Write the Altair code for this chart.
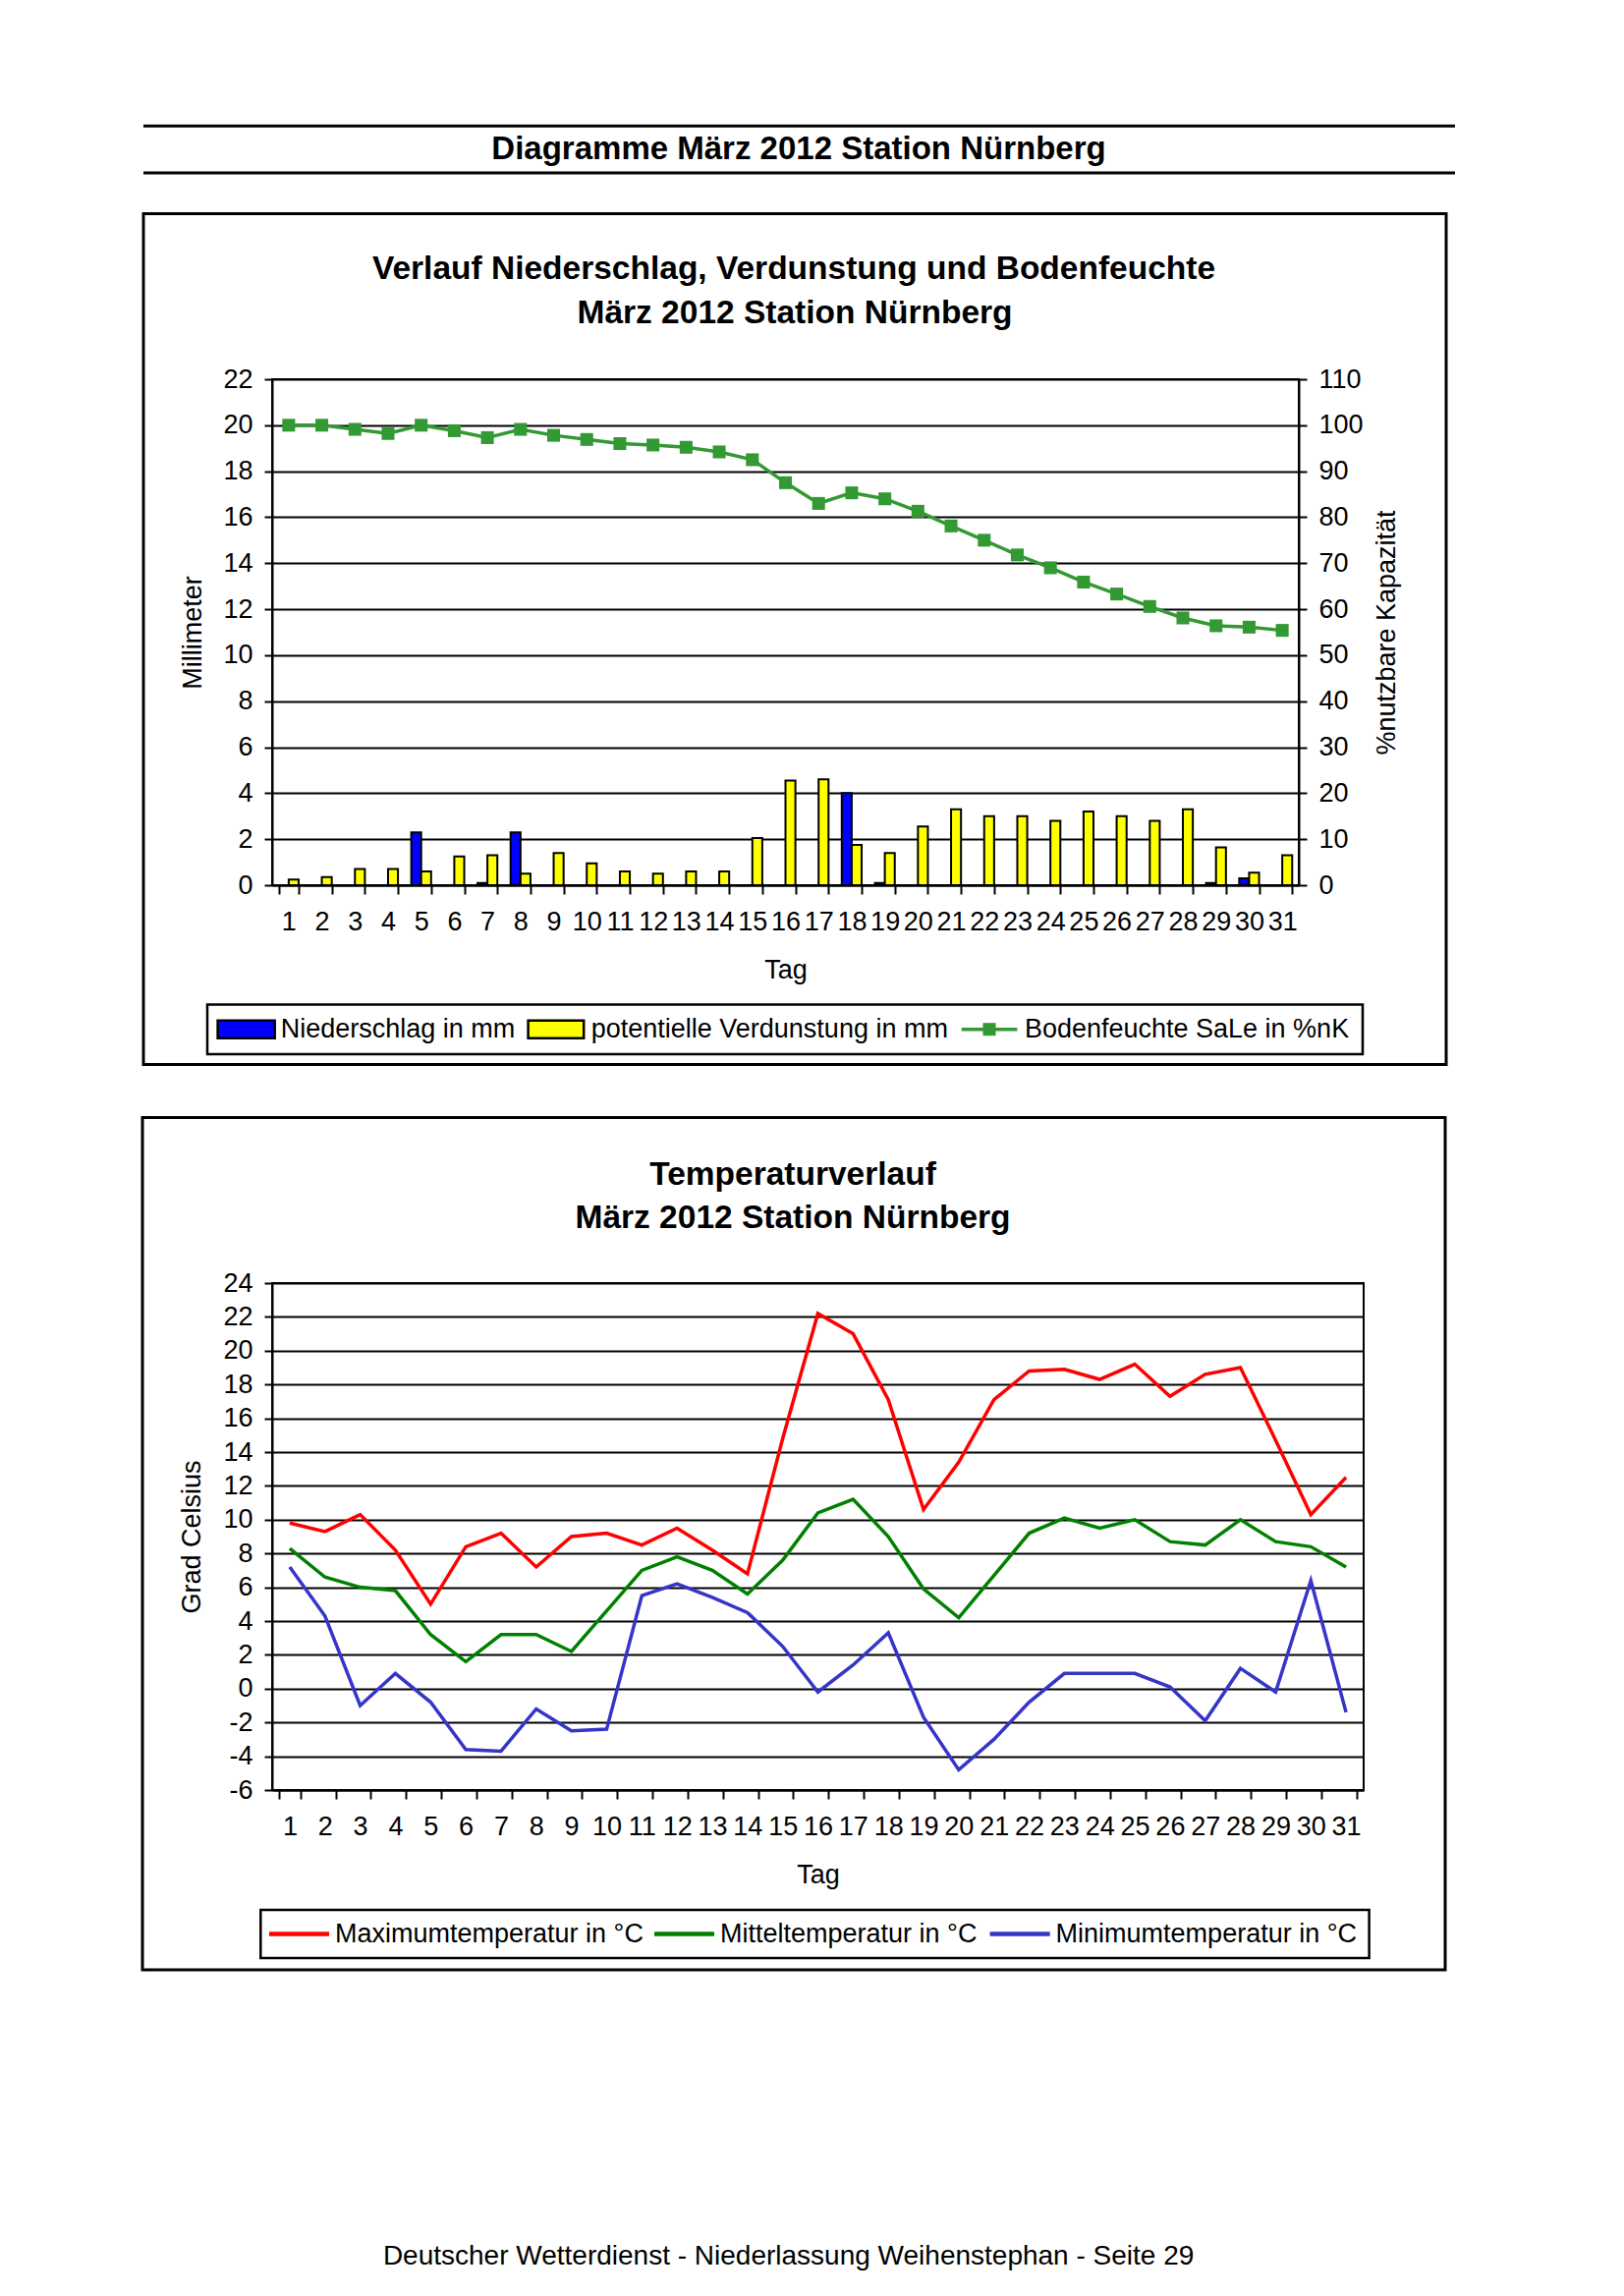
import altair as alt
import pandas as pd

FONT = "Liberation Sans"

days = list(range(1, 32))

niederschlag = [0, 0, 0, 0, 2.3, 0, 0.1, 2.3, 0, 0, 0, 0, 0, 0, 0, 0,
                0, 4.0, 0.1, 0, 0, 0, 0, 0, 0, 0, 0, 0, 0.1, 0.3, 0]
verdunstung = [0.25, 0.35, 0.7, 0.7, 0.6, 1.25, 1.3, 0.5, 1.4, 0.95, 0.6, 0.5,
               0.6, 0.6, 2.05, 4.55, 4.6, 1.75, 1.4, 2.55, 3.3, 3.0, 3.0, 2.8,
               3.2, 3.0, 2.8, 3.3, 1.65, 0.55, 1.3]
bodenfeuchte = [100, 100, 99.1, 98.2, 100, 98.8, 97.3, 99.1, 97.8, 96.9, 96.0,
                95.7, 95.2, 94.2, 92.5, 87.5, 83.0, 85.3, 84.0, 81.3, 78.1,
                75.0, 71.8, 69.0, 65.9, 63.3, 60.6, 58.1, 56.4, 56.1, 55.4]

tmax = [9.8, 9.3, 10.3, 8.2, 5.0, 8.4, 9.2, 7.2, 9.0, 9.2, 8.5, 9.5, 8.2, 6.8,
        14.8, 22.2, 21.0, 17.1, 10.6, 13.4, 17.1, 18.8, 18.9, 18.3, 19.2, 17.3,
        18.6, 19.0, 14.7, 10.3, 12.5]
tmean = [8.3, 6.6, 6.0, 5.8, 3.2, 1.6, 3.2, 3.2, 2.2, 4.6, 7.0, 7.8, 7.0, 5.6,
         7.6, 10.4, 11.2, 9.0, 5.9, 4.2, 6.7, 9.2, 10.1, 9.5, 10.0, 8.7, 8.5,
         10.0, 8.7, 8.4, 7.2]
tmin = [7.2, 4.3, -1.0, 0.9, -0.8, -3.6, -3.7, -1.2, -2.5, -2.4, 5.5, 6.2, 5.4,
        4.5, 2.5, -0.2, 1.4, 3.3, -1.7, -4.8, -3.0, -0.8, 0.9, 0.9, 0.9, 0.1,
        -1.9, 1.2, -0.2, 6.4, -1.4]

SER_N = "Niederschlag in mm"
SER_V = "potentielle Verdunstung in mm"
SER_B = "Bodenfeuchte SaLe in %nK"
SER_MAX = "Maximumtemperatur in °C"
SER_MEAN = "Mitteltemperatur in °C"
SER_MIN = "Minimumtemperatur in °C"

BLUE = "#0000FF"
YELLOW = "#FFFF00"
SOILGREEN = "#339933"
RED = "#FF0000"
DKGREEN = "#008000"
MINBLUE = "#3535C8"

W1, H1 = 1045, 515
W2, H2 = 1111, 516

one = pd.DataFrame({"k": [0]})


def x_axis(W):
    return alt.Axis(title="Tag", labelAngle=0, labelFontSize=27, labelColor="black",
                    labelBaseline="middle", labelPadding=28, labelOverlap=False,
                    tickSize=9, tickWidth=2, tickColor="black", tickBand="extent",
                    domainColor="black", domainWidth=2, grid=False,
                    titleFontSize=27, titleFontWeight="normal", titleColor="black",
                    titleX=W / 2, titleY=86, titleBaseline="middle", titleAlign="center")


def text_layer(txt, x, y, size, bold=False, align="center"):
    return alt.Chart(one).mark_text(text=txt, fontSize=size, font=FONT,
                                    fontWeight="bold" if bold else "normal",
                                    align=align, baseline="middle", color="black"
                                    ).encode(x=alt.value(x), y=alt.value(y))


def frame_layer(x0, x1, y0, y1, sw=3):
    return alt.Chart(one).mark_rect(filled=False, stroke="black", strokeWidth=sw
                                    ).encode(x=alt.value(x0), x2=alt.value(x1),
                                             y=alt.value(y0), y2=alt.value(y1))


def swatch_layer(x0, x1, y0, y1, fill):
    return alt.Chart(one).mark_rect(fill=fill, stroke="black", strokeWidth=2.5
                                    ).encode(x=alt.value(x0), x2=alt.value(x1),
                                             y=alt.value(y0), y2=alt.value(y1))


def rule_layer(x0, x1, y, color="black", sw=3):
    return alt.Chart(one).mark_rule(color=color, strokeWidth=sw
                                    ).encode(x=alt.value(x0), x2=alt.value(x1), y=alt.value(y))


def square_layer(x, y, color, size):
    return alt.Chart(one).mark_point(shape="square", filled=True, color=color, size=size,
                                     opacity=1).encode(x=alt.value(x), y=alt.value(y))


# ---------------- Chart 1 ----------------
df_bars = pd.DataFrame({
    "day": days * 2,
    "series": [SER_N] * 31 + [SER_V] * 31,
    "value": niederschlag + verdunstung,
})
df_soil = pd.DataFrame({"day": days, "series": [SER_B] * 31, "value": bodenfeuchte})

color1 = alt.Color("series:N",
                   scale=alt.Scale(domain=[SER_N, SER_V, SER_B], range=[BLUE, YELLOW, SOILGREEN]),
                   legend=None)

x1 = alt.X("day:O", sort=days, scale=alt.Scale(paddingInner=0.4, paddingOuter=0.2),
           axis=x_axis(W1))

bars = alt.Chart(df_bars).transform_filter("datum.value > 0").mark_bar(
    stroke="black", strokeWidth=2).encode(
    x=x1,
    xOffset=alt.XOffset("series:N", sort=[SER_N, SER_V], scale=alt.Scale(domain=[SER_N, SER_V])),
    y=alt.Y("value:Q", scale=alt.Scale(domain=[0, 22], nice=False, zero=True),
            axis=alt.Axis(values=list(range(0, 23, 2)), title="Millimeter",
                          labelFontSize=27, labelColor="black", labelPadding=12,
                          tickSize=8, tickWidth=2, tickColor="black",
                          domainColor="black", domainWidth=2,
                          grid=True, gridColor="black", gridWidth=2, gridOpacity=1,
                          titleFontSize=27, titleFontWeight="normal", titleColor="black",
                          titleX=-81, titleY=H1 / 2, titleAngle=270,
                          titleAlign="center", titleBaseline="middle")),
    color=color1,
)

soil = alt.Chart(df_soil).mark_line(
    strokeWidth=3.5,
    point=alt.OverlayMarkDef(shape="square", size=170, filled=True, opacity=1)).encode(
    x=x1,
    y=alt.Y("value:Q", scale=alt.Scale(domain=[0, 110], nice=False, zero=True),
            axis=alt.Axis(orient="right", values=list(range(0, 111, 10)),
                          title="%nutzbare Kapazität",
                          labelFontSize=27, labelColor="black", labelPadding=12,
                          tickSize=8, tickWidth=2, tickColor="black",
                          domainColor="black", domainWidth=2, grid=False,
                          titleFontSize=27, titleFontWeight="normal", titleColor="black",
                          titleX=89, titleY=H1 / 2, titleAngle=270,
                          titleAlign="center", titleBaseline="middle")),
    color=color1,
)

LY1 = 661.7
legend1_layers = [
    alt.Chart(one).mark_rect(fill="white", stroke="black", strokeWidth=2.5).encode(
        x=alt.value(-66), x2=alt.value(1110), y=alt.value(636.5), y2=alt.value(687)),
    swatch_layer(-55.4, 2.7, LY1 - 9, LY1 + 9, BLUE),
    text_layer(SER_N, 8.7, LY1, 27, align="left"),
    swatch_layer(260.6, 317.2, LY1 - 9, LY1 + 9, YELLOW),
    text_layer(SER_V, 324.7, LY1, 27, align="left"),
    rule_layer(701.8, 758.4, LY1, color=SOILGREEN, sw=3.5),
    square_layer(730, LY1, SOILGREEN, 170),
    text_layer(SER_B, 765.9, LY1, 27, align="left"),
]

chart1 = alt.layer(
    frame_layer(-131, 1195, -168.4, 697.6),
    rule_layer(-131, 1204, -257.8),
    rule_layer(-131, 1204, -210.1),
    text_layer("Diagramme März 2012 Station Nürnberg", 536, -234, 33, True),
    text_layer("Verlauf Niederschlag, Verdunstung und Bodenfeuchte", 531, -111.7, 33.5, True),
    text_layer("März 2012 Station Nürnberg", 532, -67, 33.5, True),
    bars,
    soil,
    *legend1_layers,
).resolve_scale(y="independent").properties(width=W1, height=H1)

# ---------------- Chart 2 ----------------
df_temp = pd.DataFrame({
    "day": days * 3,
    "series": [SER_MAX] * 31 + [SER_MEAN] * 31 + [SER_MIN] * 31,
    "value": tmax + tmean + tmin,
})

temp = alt.Chart(df_temp).mark_line(strokeWidth=3.5).encode(
    x=alt.X("day:O", sort=days, scale=alt.Scale(paddingInner=0.4, paddingOuter=0.2),
            axis=x_axis(W2)),
    y=alt.Y("value:Q", scale=alt.Scale(domain=[-6, 24], nice=False, zero=False),
            axis=alt.Axis(values=list(range(-6, 25, 2)), title="Grad Celsius",
                          labelExpr="'' + datum.value",
                          labelFontSize=27, labelColor="black", labelPadding=12,
                          tickSize=8, tickWidth=2, tickColor="black",
                          domainColor="black", domainWidth=2,
                          grid=True, gridColor="black", gridWidth=2, gridOpacity=1,
                          titleFontSize=27, titleFontWeight="normal", titleColor="black",
                          titleX=-82, titleY=H2 / 2, titleAngle=270,
                          titleAlign="center", titleBaseline="middle")),
    color=alt.Color("series:N",
                    scale=alt.Scale(domain=[SER_MAX, SER_MEAN, SER_MIN],
                                    range=[RED, DKGREEN, MINBLUE]),
                    legend=None),
    detail="series:N",
)

LY2 = 662.5
legend2_layers = [
    alt.Chart(one).mark_rect(fill="white", stroke="black", strokeWidth=2.5).encode(
        x=alt.value(-11.7), x2=alt.value(1116.6), y=alt.value(638), y2=alt.value(687.1)),
    rule_layer(-3, 58, LY2, color=RED, sw=4.5),
    text_layer(SER_MAX, 64, LY2, 27, align="left"),
    rule_layer(389, 450, LY2, color=DKGREEN, sw=4.5),
    text_layer(SER_MEAN, 456, LY2, 27, align="left"),
    rule_layer(730.6, 791.7, LY2, color=MINBLUE, sw=4.5),
    text_layer(SER_MIN, 797.6, LY2, 27, align="left"),
]

chart2 = alt.layer(
    frame_layer(-132, 1194, -168.4, 699),
    text_layer("Temperaturverlauf", 530, -110.3, 33.5, True),
    text_layer("März 2012 Station Nürnberg", 530, -65.7, 33.5, True),
    text_layer("Deutscher Wetterdienst - Niederlassung Weihenstephan - Seite 29", 525.6, 991, 28),
    temp,
    *legend2_layers,
).properties(width=W2, height=H2)

chart = alt.vconcat(chart1, chart2, spacing=48).resolve_scale(
    color="independent", x="independent"
).properties(
    padding={"left": 134, "top": 117, "right": 5, "bottom": 5}
).configure(font=FONT).configure_view(stroke="black", strokeWidth=2)

chart.save("out.html", embed_options={"renderer": "svg", "actions": False})
